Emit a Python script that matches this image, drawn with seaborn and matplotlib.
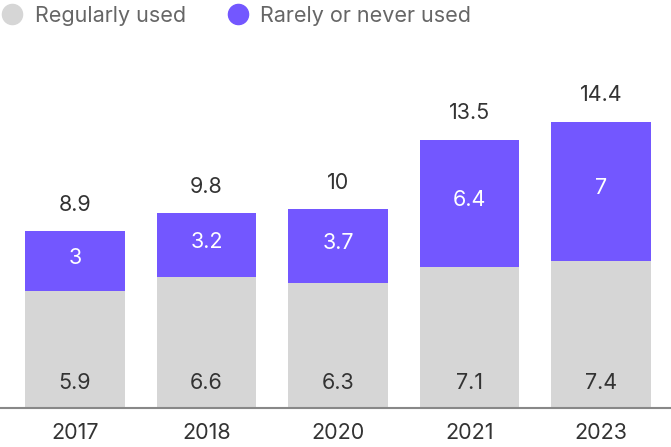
import matplotlib
matplotlib.use("Agg")
import matplotlib.pyplot as plt
from matplotlib.lines import Line2D
import seaborn as sns
import pandas as pd

years = ["2017", "2018", "2020", "2021", "2023"]
regular = [5.9, 6.6, 6.3, 7.1, 7.4]
rarely = [3, 3.2, 3.7, 6.4, 7]
totals = [8.9, 9.8, 10, 13.5, 14.4]
series_names = ["Regularly used", "Rarely or never used"]

GREY = "#D6D6D6"
PURPLE = "#7357FF"
TEXT = "#333333"
FS = 15.5

sns.set_theme(style="white")
plt.rcParams["font.family"] = ["Inter", "DejaVu Sans"]

df = pd.DataFrame({"year": years, "regular": regular, "rarely": rarely, "total": totals})
df["stack"] = df["regular"] + df["rarely"]

fig = plt.figure(figsize=(6.71, 4.47), dpi=100)
ax = fig.add_axes([0, 39 / 447, 1, 348 / 447])

sns.barplot(data=df, x="year", y="stack", color=PURPLE, saturation=1, width=0.76, linewidth=0, ax=ax)
sns.barplot(data=df, x="year", y="regular", color=GREY, saturation=1, width=0.76, linewidth=0, ax=ax)

ax.set_xlim(-0.57, 4.532)
ax.set_ylim(0, 17.5)

for i, row in df.iterrows():
    ax.annotate(f"{row['total']:g}", (i, row["stack"]), xytext=(0, 19), textcoords="offset points",
                ha="center", va="center", fontsize=FS, color=TEXT)
    ax.annotate(f"{row['rarely']:g}", (i, row["regular"] + row["rarely"] / 2), xytext=(0, 2),
                textcoords="offset points", ha="center", va="center", fontsize=FS, color="white")
    ax.annotate(f"{row['regular']:g}", (i, 0), xytext=(0, 18), textcoords="offset points",
                ha="center", va="center", fontsize=FS, color=TEXT)

for s in ["top", "right", "left"]:
    ax.spines[s].set_visible(False)
ax.spines["bottom"].set_color("#888888")
ax.spines["bottom"].set_linewidth(1.5)
ax.set_yticks([])
ax.set_xlabel("")
ax.set_ylabel("")
ax.tick_params(axis="x", length=0, pad=11, labelsize=FS, labelcolor=TEXT)

handles = [Line2D([], [], marker="o", linestyle="", markersize=14.5, color=GREY),
           Line2D([], [], marker="o", linestyle="", markersize=14.5, color=PURPLE)]
fig.legend(handles, series_names, loc="upper left", bbox_to_anchor=(-0.03, 1.03), ncol=2, frameon=False,
           fontsize=FS, labelcolor="#666666", handletextpad=0.45, columnspacing=1.8, handlelength=1.2)

fig.savefig("out.png", dpi=100)
